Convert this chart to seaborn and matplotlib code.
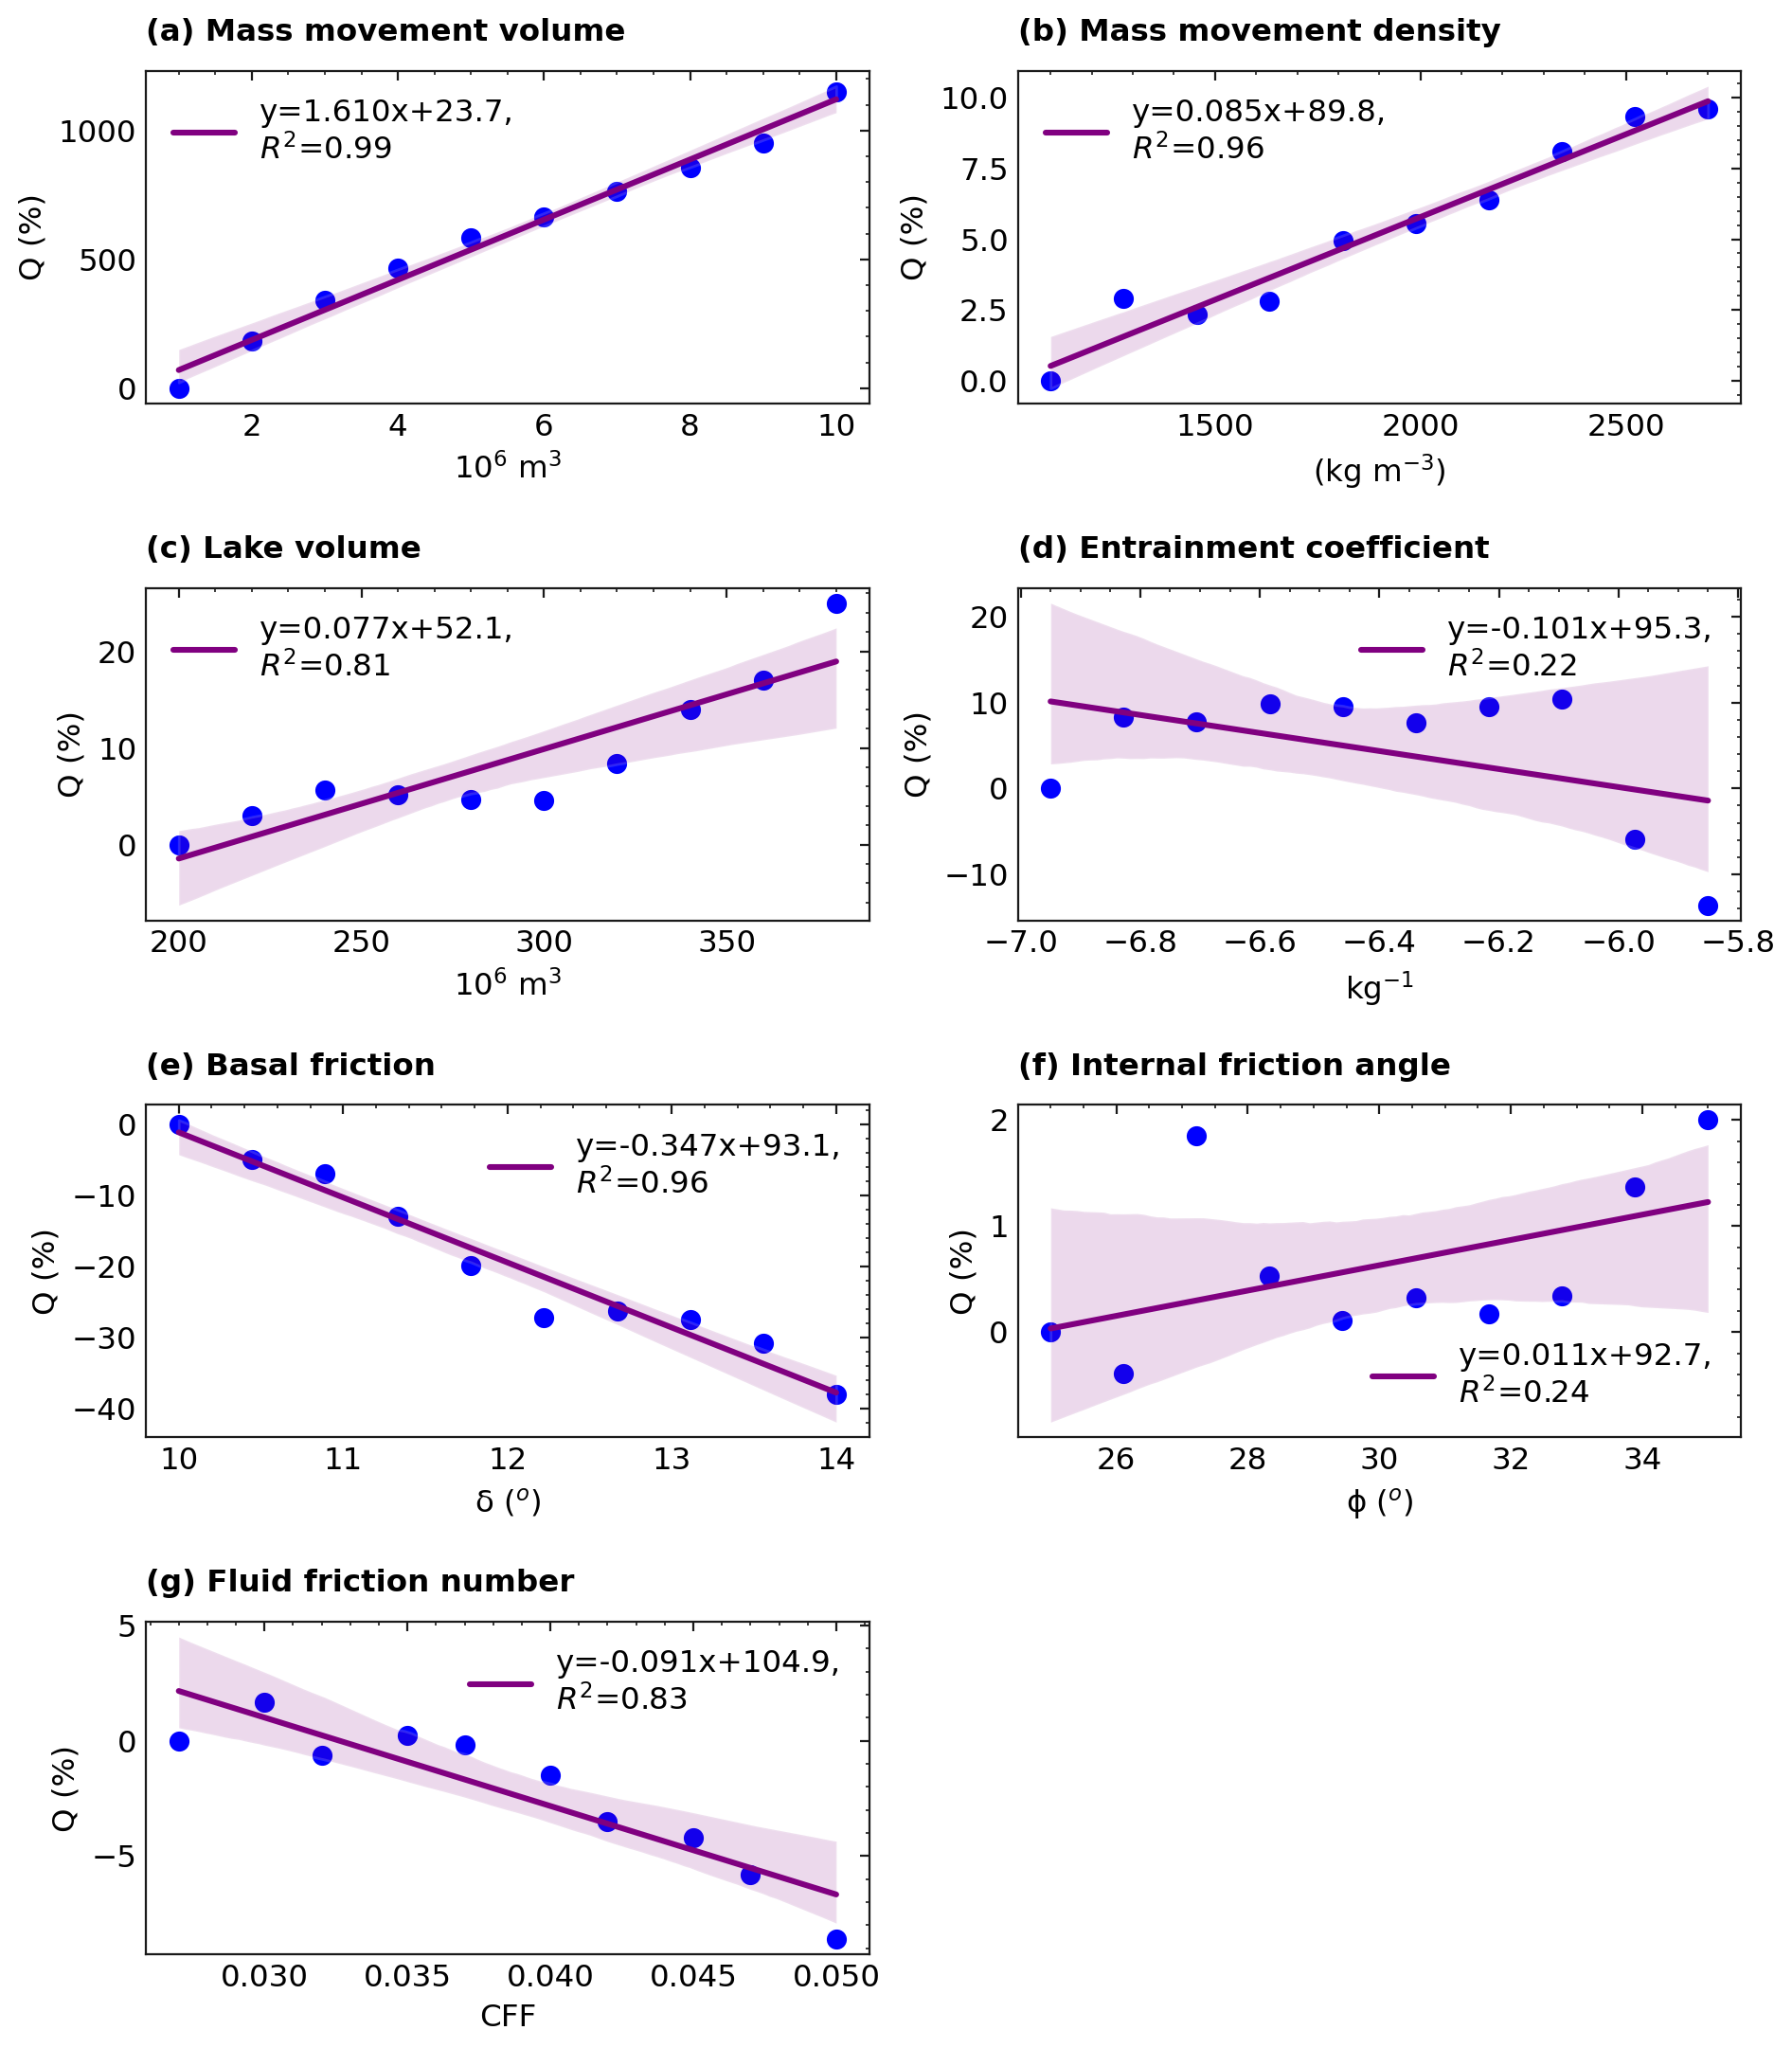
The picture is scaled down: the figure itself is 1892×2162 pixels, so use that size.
import matplotlib
matplotlib.use("Agg")
import matplotlib.pyplot as plt
import seaborn as sns
import numpy as np
import pandas as pd

# ---- data ----
titles = ["(a) Mass movement volume", "(b) Mass movement density", "(c) Lake volume",
          "(d) Entrainment coefficient", "(e) Basal friction", "(f) Internal friction angle",
          "(g) Fluid friction number"]
xlabels = [r"10$^6$ m$^3$", r"(kg m$^{-3}$)", r"10$^6$ m$^3$", r"kg$^{-1}$",
           r"δ ($^o$)", r"ϕ ($^o$)", "CFF"]
eqs = [r"y=1.610x+23.7," + "\n" + r"$R^2$=0.99",
       r"y=0.085x+89.8," + "\n" + r"$R^2$=0.96",
       r"y=0.077x+52.1," + "\n" + r"$R^2$=0.81",
       r"y=-0.101x+95.3," + "\n" + r"$R^2$=0.22",
       r"y=-0.347x+93.1," + "\n" + r"$R^2$=0.96",
       r"y=0.011x+92.7," + "\n" + r"$R^2$=0.24",
       r"y=-0.091x+104.9," + "\n" + r"$R^2$=0.83"]
legend_locs = ["upper left", "upper left", "upper left", "upper right",
               "upper right", "lower right", "upper right"]

x_a = [1, 2, 3, 4, 5, 6, 7, 8, 9, 10]
y_a = [0, 185, 340, 465, 585, 665, 765, 855, 950, 1150]

x_b = [1100, 1278, 1456, 1633, 1811, 1989, 2167, 2344, 2522, 2700]
y_b = [0.0, 2.9, 2.35, 2.8, 4.95, 5.55, 6.4, 8.1, 9.35, 9.6]

x_c = [200, 220, 240, 260, 280, 300, 320, 340, 360, 380]
y_c = [0.0, 3.0, 5.7, 5.2, 4.7, 4.6, 8.4, 14.0, 17.0, 25.0]

x_d = [-6.95, -6.828, -6.706, -6.583, -6.461, -6.339, -6.217, -6.094, -5.972, -5.85]
y_d = [0.0, 8.3, 7.8, 9.9, 9.5, 7.7, 9.5, 10.4, -5.9, -13.6]

x_e = [10.0, 10.444, 10.889, 11.333, 11.778, 12.222, 12.667, 13.111, 13.556, 14.0]
y_e = [0.0, -5.0, -7.0, -13.0, -19.9, -27.2, -26.3, -27.5, -30.8, -38.0]

x_f = [25.0, 26.11, 27.22, 28.33, 29.44, 30.56, 31.67, 32.78, 33.89, 35.0]
y_f = [0.0, -0.39, 1.85, 0.53, 0.11, 0.32, 0.17, 0.34, 1.37, 2.0]

x_g = [0.027, 0.030, 0.032, 0.035, 0.037, 0.040, 0.042, 0.045, 0.047, 0.050]
y_g = [0.0, 1.65, -0.65, 0.25, -0.2, -1.5, -3.5, -4.2, -5.8, -8.6]

xs = [x_a, x_b, x_c, x_d, x_e, x_f, x_g]
ys = [y_a, y_b, y_c, y_d, y_e, y_f, y_g]

# ---- style ----
sns.set_style("white")
FS = 11.7
plt.rcParams.update({
    "font.family": ["DejaVu Sans"],
    "font.size": FS,
    "axes.titlesize": FS,
    "axes.labelsize": FS,
    "xtick.labelsize": FS,
    "ytick.labelsize": FS,
    "legend.fontsize": FS,
    "text.color": "black",
    "axes.labelcolor": "black",
    "axes.edgecolor": "0.1",
    "axes.linewidth": 0.8,
    "xtick.direction": "in",
    "ytick.direction": "in",
    "xtick.top": True,
    "ytick.right": True,
    "xtick.minor.visible": True,
    "ytick.minor.visible": True,
    "xtick.major.size": 3.5,
    "ytick.major.size": 3.5,
    "xtick.minor.size": 1.6,
    "ytick.minor.size": 1.6,
    "xtick.color": "0.1",
    "ytick.color": "0.1",
    "xtick.labelcolor": "black",
    "ytick.labelcolor": "black",
    "mathtext.default": "it",
})

fig, axes = plt.subplots(4, 2, figsize=(9.46, 10.81), dpi=200)
fig.subplots_adjust(left=0.0814, right=0.9715, top=0.9653, bottom=0.0458,
                    wspace=0.2055, hspace=0.5556)
axes = axes.ravel()

for i in range(7):
    ax = axes[i]
    df = pd.DataFrame({"x": xs[i], "y": ys[i]})
    sns.regplot(data=df, x="x", y="y", ax=ax, ci=95, n_boot=1000, seed=3,
                scatter_kws={"color": "blue", "s": 66, "alpha": 1.0,
                             "edgecolor": "white", "linewidths": 0.5},
                line_kws={"color": "purple", "lw": 2.2, "label": eqs[i]})
    ax.set_title(titles[i], loc="left", fontweight="bold", pad=11.5)
    ax.set_xlabel(xlabels[i])
    ax.set_ylabel("Q (%)")
    ax.legend(loc=legend_locs[i], frameon=False)
    for s in ax.spines.values():
        s.set_visible(True)

axes[7].axis("off")

fig.savefig("out.png", dpi=200)
